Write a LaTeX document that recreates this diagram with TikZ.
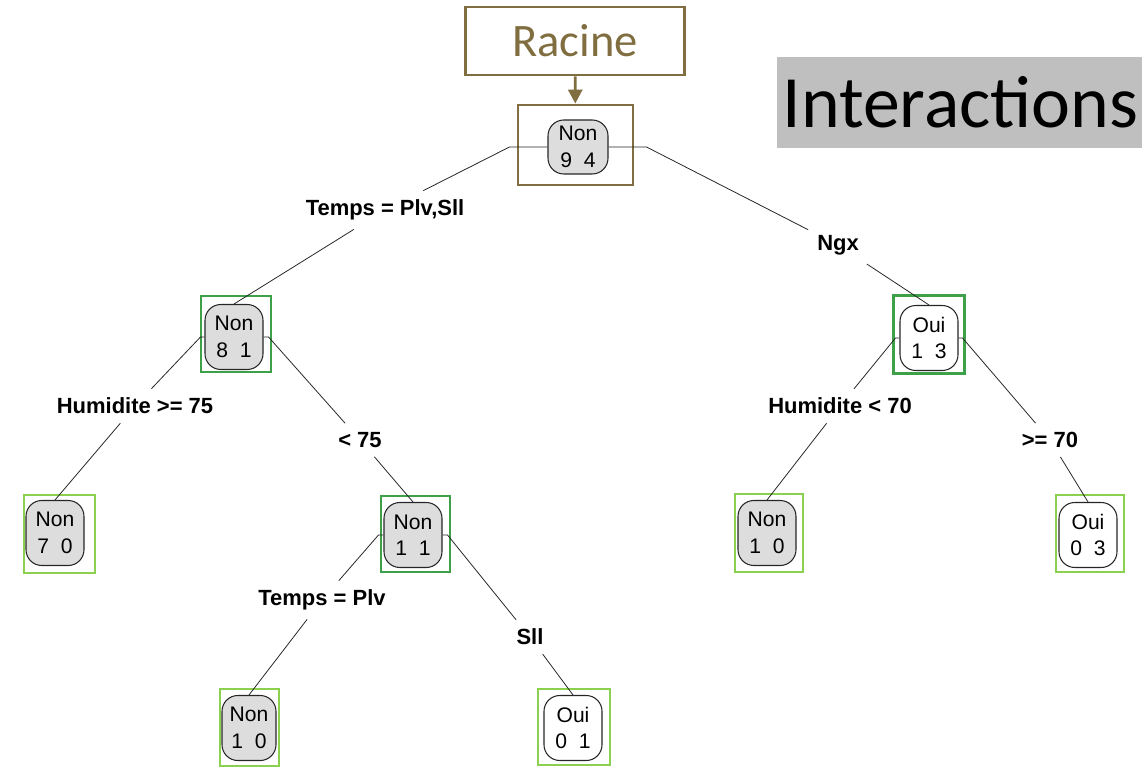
\documentclass[tikz,border=0pt]{standalone}
\usepackage{fontspec}
\setmainfont{Liberation Sans}
\newfontfamily\calibri{Carlito}
\usepackage{tikz}
\usetikzlibrary{arrows.meta}

\definecolor{boxolive}{RGB}{128,110,64}
\definecolor{boxdark}{RGB}{62,160,72}
\definecolor{boxlight}{RGB}{140,208,80}
\definecolor{nodegray}{RGB}{221,221,221}
\definecolor{titlegray}{RGB}{191,191,191}

\tikzset{
	innode/.style={draw=black!85, line width=0.6pt, rounded corners=9pt, fill=nodegray,
		minimum width=1.16cm, minimum height=1.3cm, inner sep=0pt, align=center,
		font=\fontsize{12}{15}\selectfont},
	leafnode/.style={innode, fill=white},
	tbox/.style={draw=#1, line width=1.6pt, inner sep=0pt},
	cond/.style={font=\bfseries\fontsize{12.5}{14}\selectfont, inner sep=5pt},
	edge/.style={line width=0.45pt, black!85}
}

\begin{document}
\begin{tikzpicture}
	\useasboundingbox (0, 0) rectangle (22.84, 15.32);
	% titles
	\node (racine) at (11.5, 14.5) [tbox=boxolive, minimum width=4.38cm, minimum height=1.36cm,
		text=boxolive, font=\calibri\fontsize{26.5}{30}\selectfont] {Racine};
	\node (titre) at (19.21, 13.27) [fill=titlegray, minimum width=7.26cm, minimum height=1.82cm,
		font=\calibri\fontsize{42}{46}\selectfont] {Interactions};

	% boxes round the nodes
	\node (b1) at (11.51, 12.42) [tbox=boxolive, minimum width=2.3cm, minimum height=1.6cm] {};
	\node (b2) at (4.72, 8.64) [tbox=boxdark, minimum width=1.4cm, minimum height=1.52cm] {};
	\node (b3) at (18.58, 8.63) [tbox=boxdark, minimum width=1.42cm, minimum height=1.56cm] {};
	\node (b4) at (1.19, 4.64) [tbox=boxlight, minimum width=1.42cm, minimum height=1.56cm] {};
	\node (b5) at (8.31, 4.64) [tbox=boxdark, minimum width=1.38cm, minimum height=1.52cm] {};
	\node (b6) at (15.38, 4.66) [tbox=boxlight, minimum width=1.36cm, minimum height=1.56cm] {};
	\node (b7) at (21.8, 4.65) [tbox=boxlight, minimum width=1.36cm, minimum height=1.54cm] {};
	\node (b8) at (4.99, 0.77) [tbox=boxlight, minimum width=1.18cm, minimum height=1.54cm] {};
	\node (b9) at (11.48, 0.78) [tbox=boxlight, minimum width=1.44cm, minimum height=1.52cm] {};

	% tree nodes
	\node (n1) at (11.56, 12.38) [innode, minimum width=1.2cm, minimum height=1.08cm] {Non\\9~~4};
	\node (n2) at (4.68, 8.58) [innode] {Non\\8~~1};
	\node (n3) at (18.58, 8.56) [leafnode] {Oui\\1~~3};
	\node (n4) at (1.1, 4.66) [innode] {Non\\7~~0};
	\node (n5) at (8.26, 4.62) [innode] {Non\\1~~1};
	\node (n6) at (15.34, 4.66) [innode] {Non\\1~~0};
	\node (n7) at (21.76, 4.62) [leafnode] {Oui\\0~~3};
	\node (n8) at (4.98, 0.76) [innode, minimum width=1.08cm] {Non\\1~~0};
	\node (n9) at (11.46, 0.76) [leafnode] {Oui\\0~~1};

	% split labels
	\node (l1) at (7.7, 11.12) [cond] {Temps = Plv,Sll};
	\node (l2) at (16.76, 10.42) [cond] {Ngx};
	\node (l3) at (2.7, 7.2) [cond] {Humidite >= 75};
	\node (l4) at (7.2, 6.52) [cond] {< 75};
	\node (l5) at (16.8, 7.2) [cond] {Humidite < 70};
	\node (l6) at (21.0, 6.52) [cond] {>= 70};
	\node (l7) at (6.44, 3.32) [cond] {Temps = Plv};
	\node (l8) at (10.6, 2.58) [cond] {Sll};

	% connectors
	\draw [-{Triangle[length=8pt, width=8pt]}, line width=1.6pt, boxolive] (racine) -- (b1);
	\draw [edge] (n1.west) -- ++(-0.76, 0) -- (l1) -- (n2.north);
	\draw [edge] (n1.east) -- ++(0.76, 0) -- (l2) -- (n3.north);
	\draw [edge] (n2.west) -- ++(-0.08, 0) -- (l3) -- (n4.north);
	\draw [edge] (n2.east) -- ++(0.1, 0) -- (l4) -- (n5.north);
	\draw [edge] (n3.west) -- ++(-0.08, 0) -- (l5) -- (n6.north);
	\draw [edge] (n3.east) -- ++(0.08, 0) -- (l6) -- (n7.north);
	\draw [edge] (n5.west) -- ++(-0.1, 0) -- (l7) -- (n8.north);
	\draw [edge] (n5.east) -- ++(0.1, 0) -- (l8) -- (n9.north);
\end{tikzpicture}
\end{document}
